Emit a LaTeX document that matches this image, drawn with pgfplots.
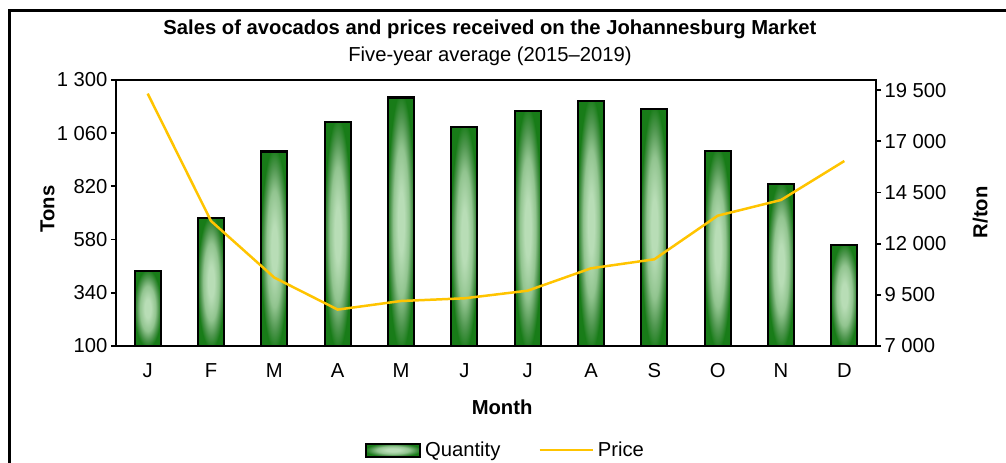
\documentclass[border=0pt]{standalone}
\usepackage{pgfplots}
\pgfplotsset{compat=1.18}
\usepackage{fontspec}
\setmainfont{Liberation Sans}
\definecolor{bardark}{RGB}{24,124,24}
\definecolor{barmid2}{RGB}{78,150,78}
\definecolor{barmid}{RGB}{145,196,143}
\definecolor{barlight}{RGB}{184,221,182}
\definecolor{priceyellow}{RGB}{255,196,0}
\pgfdeclareradialshading{barshade}{\pgfpoint{0bp}{0bp}}{color(0bp)=(barlight); color(6bp)=(barlight); color(15bp)=(barmid); color(21bp)=(barmid2); color(26bp)=(bardark); color(50bp)=(bardark)}
\newcommand{\chartfont}{\fontsize{20.3}{24}\selectfont}
\pgfplotsset{barstyle/.style={ybar, bar width=26bp, draw=black, line width=2.2bp, shading=barshade}}
\begin{document}
\begin{tikzpicture}
\useasboundingbox (0,0) rectangle (1006bp,463bp);
\draw[line width=3bp] (9.5bp,-10bp) -- (9.5bp,452bp) -- (1020bp,452bp);
\node[anchor=base, font=\chartfont\bfseries, inner sep=0pt] at (490bp,428.5bp) {Sales of avocados and prices received on the Johannesburg Market};
\node[anchor=base, font=\chartfont, inner sep=0pt] at (490bp,401bp) {Five-year average (2015--2019)};
\begin{axis}[
  at={(116bp,117bp)}, anchor=south west, scale only axis,
  width=760bp, height=266bp,
  xmin=-0.5, xmax=11.5, ymin=100, ymax=1300,
  xtick={0,...,11}, xticklabels={J,F,M,A,M,J,J,A,S,O,N,D},
  minor xtick={-0.5,0.5,...,11.5},
  ytick={100,340,...,1300},
  xtick pos=bottom, ytick pos=left,
  tick align=outside,
  major tick length=5bp, minor tick length=5bp,
  xtick style={draw=none},
  every tick/.style={black, line width=1.8bp},
  minor x tick style={black, line width=1.8bp},
  axis line style={line width=2bp},
  tick label style={font=\chartfont},
  xticklabel style={text height=14.5bp, text depth=0bp, yshift=-8bp},
  /pgf/number format/assume math mode=true,
  /pgf/number format/1000 sep={\ },
  xlabel={Month}, ylabel={Tons},
  label style={font=\chartfont\bfseries},
  xlabel style={at={(axis description cs:0.508,-0.229)}, anchor=center},
  ylabel style={at={(axis description cs:-0.09,0.515)}, anchor=center},
]
% Quantity (tons), one bar per month
\addplot[barstyle] coordinates {(0,438)};
\addplot[barstyle] coordinates {(1,679)};
\addplot[barstyle] coordinates {(2,977)};
\addplot[barstyle] coordinates {(3,1110)};
\addplot[barstyle] coordinates {(4,1221)};
\addplot[barstyle] coordinates {(5,1088)};
\addplot[barstyle] coordinates {(6,1160)};
\addplot[barstyle] coordinates {(7,1205)};
\addplot[barstyle] coordinates {(8,1168)};
\addplot[barstyle] coordinates {(9,981)};
\addplot[barstyle] coordinates {(10,832)};
\addplot[barstyle] coordinates {(11,556)};
\end{axis}
\begin{axis}[
  at={(116bp,117bp)}, anchor=south west, scale only axis,
  width=760bp, height=266bp,
  xmin=-0.5, xmax=11.5, ymin=7000, ymax=20000,
  axis y line*=right, axis x line=none,
  ytick={7000,9500,...,19500},
  scaled y ticks=false,
  tick align=outside,
  major tick length=5bp,
  every tick/.style={black, line width=1.8bp},
  axis line style={line width=2bp},
  tick label style={font=\chartfont},
  /pgf/number format/assume math mode=true,
  /pgf/number format/fixed,
  /pgf/number format/1000 sep={\ },
  ylabel={R/ton},
  label style={font=\chartfont\bfseries},
  ylabel style={at={(axis description cs:1.137,0.503)}, anchor=center, rotate=0},
  legend style={at={(axis description cs:0.5125,-0.391)}, anchor=center, draw=none, fill=none, font=\chartfont,
    /tikz/every odd column/.append style={column sep=2bp},
    /tikz/every even column/.append style={column sep=36bp}},
  legend columns=2,
]
\addlegendimage{legend image code/.code={\draw[shading=barshade, draw=black, line width=2bp] (0bp,-6.5bp) rectangle (54bp,6.5bp);}}
\addlegendentry{Quantity}
\addplot[color=priceyellow, line width=2.5bp, mark=none,
  legend image code/.code={\draw[priceyellow, line width=2.5bp] (0bp,0bp) -- (53bp,0bp);}]
  coordinates {(0,19337) (1,13109) (2,10343) (3,8779) (4,9199) (5,9331) (6,9703) (7,10797) (8,11237) (9,13368) (10,14135) (11,16041)};
\addlegendentry{Price}
\end{axis}
\end{tikzpicture}
\end{document}
